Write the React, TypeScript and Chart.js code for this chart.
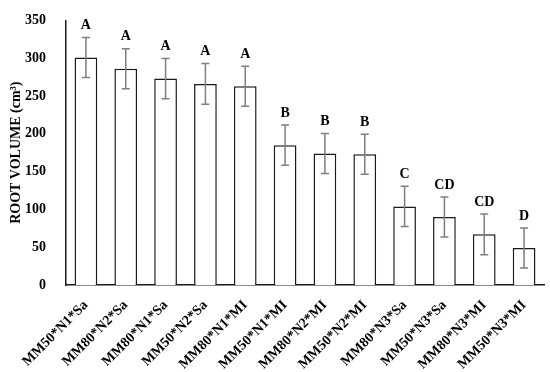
import React, { useEffect, useRef } from "react";
import { Chart, registerables } from "chart.js";

Chart.register(...registerables);

const categories = [
  "MM50*N1*Sa", "MM80*N2*Sa", "MM80*N1*Sa", "MM50*N2*Sa",
  "MM80*N1*MI", "MM50*N1*MI", "MM80*N2*MI", "MM50*N2*MI",
  "MM80*N3*Sa", "MM50*N3*Sa", "MM80*N3*MI", "MM50*N3*MI",
];
const rootVolume = [301, 286, 273, 266, 263, 185, 174, 173, 104, 90, 67, 49];
const errors = [26.5, 26.5, 26.5, 27, 26.5, 26.5, 26.5, 26.5, 26.5, 26.5, 27, 26.5];
const letters = ["A", "A", "A", "A", "A", "B", "B", "B", "C", "CD", "CD", "D"];
const yTicks = [0, 50, 100, 150, 200, 250, 300, 350];

const SERIF = "'Liberation Serif', 'Times New Roman', serif";

const errorBarPlugin = {
  id: "errorBars",
  afterDatasetsDraw(chart: any) {
    const meta = chart.getDatasetMeta(0);
    const y = chart.scales.y;
    const ctx = chart.ctx;
    ctx.save();
    meta.data.forEach((bar: any, i: number) => {
      const v = rootVolume[i];
      const e = errors[i];
      const x = bar.x;
      const yTop = y.getPixelForValue(v + e);
      const yBot = y.getPixelForValue(v - e);
      ctx.strokeStyle = "#7f7f7f";
      ctx.lineWidth = 1.5;
      ctx.beginPath();
      ctx.moveTo(x, yTop);
      ctx.lineTo(x, yBot);
      ctx.moveTo(x - 4, yTop);
      ctx.lineTo(x + 4, yTop);
      ctx.moveTo(x - 4, yBot);
      ctx.lineTo(x + 4, yBot);
      ctx.stroke();
      ctx.fillStyle = "#000";
      ctx.font = `bold 14px ${SERIF}`;
      ctx.textAlign = "center";
      ctx.textBaseline = "bottom";
      ctx.fillText(letters[i], x, yTop - 5);
    });
    ctx.restore();
  },
};

export default function App() {
  const ref = useRef<HTMLCanvasElement>(null);
  useEffect(() => {
    document.body.style.margin = "0";
    const chart = new Chart(ref.current!, {
      type: "bar",
      data: {
        labels: categories,
        datasets: [
          {
            data: rootVolume,
            backgroundColor: "#ffffff",
            borderColor: "#1a1a1a",
            borderWidth: 1.5,
            barPercentage: 0.57,
            categoryPercentage: 1,
          },
        ],
      },
      options: {
        animation: false,
        responsive: false,
        layout: { padding: { top: 12, right: 6, left: 0, bottom: 0 } },
        plugins: { legend: { display: false }, tooltip: { enabled: false } },
        scales: {
          x: {
            grid: { display: false },
            border: { display: true, color: "#1a1a1a", width: 1.5 },
            afterFit: (axis: any) => {
              axis.height = 87;
            },
            ticks: {
              color: "#000",
              font: { family: SERIF, size: 14, weight: "bold" },
              minRotation: 45,
              maxRotation: 45,
              padding: 4,
            },
          },
          y: {
            min: 0,
            max: 350,
            afterBuildTicks: (axis: any) => {
              axis.ticks = yTicks.map((v) => ({ value: v }));
            },
            afterFit: (axis: any) => {
              axis.width = 66;
            },
            grid: { display: false },
            border: { display: true, color: "#1a1a1a", width: 1.5 },
            ticks: {
              color: "#000",
              font: { family: SERIF, size: 14, weight: "bold" },
              padding: 12,
            },
            title: {
              display: true,
              text: "ROOT VOLUME (cm³)",
              color: "#000",
              font: { family: SERIF, size: 14, weight: "bold" },
              padding: { top: 8, bottom: 4 },
            },
          },
        },
      },
      plugins: [errorBarPlugin],
    });
    return () => chart.destroy();
  }, []);
  return <canvas ref={ref} width={550} height={372} />;
}
